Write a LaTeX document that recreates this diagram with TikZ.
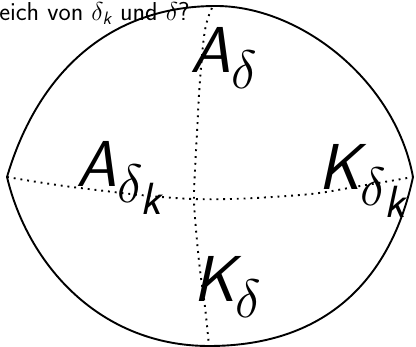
\documentclass[tikz,border=0pt]{standalone}
\usepackage{amsmath}
\newcommand{\sfsl}[1]{\text{\sffamily\slshape #1}}
\tikzset{
  rim/.style={line width=1.9pt, line join=round},
  grid/.style={line width=1.9pt, dash pattern=on 1.9pt off 4.9pt},
  lab/.style={anchor=base west, inner sep=0pt, scale=2.61, font=\Huge},
  ttl/.style={anchor=base west, inner sep=0pt, scale=1.5, font=\LARGE\sffamily}
}
\begin{document}
\begin{tikzpicture}[x=1pt,y=-1pt]
\useasboundingbox (0,0) rectangle (416,347);
\coordinate (L) at (7,177);
\coordinate (R) at (413,177);
\coordinate (T) at (216,6);
\coordinate (B) at (209,346);
\coordinate (C) at (194,199);
\node[ttl] (title) at (-1,21) {eich von $\delta_{\sfsl{k}}$ und $\delta$?};
% outline
\draw[rim] (L) .. controls (38,72) and (110,6) .. (T)
               .. controls (300,6) and (395,80) .. (R)
               .. controls (392,275) and (330,346) .. (B)
               .. controls (100,346) and (28,265) .. cycle;
% dotted grid lines
\draw[grid] plot[smooth, tension=0.6] coordinates {(L) (80,188) (C) (300,195) (360,186) (R)};
\draw[grid] plot[smooth, tension=0.6] coordinates {(212,8) (205,30) (200,80) (197,133) (195,170) (C) (196,230) (200,270) (205,307) (B)};
% labels
\node[lab] (Ad) at (190,73) {$\sfsl{A}_{\delta}$};
\node[lab] (Adk) at (76,187) {$\sfsl{A}_{\delta_{\sfsl{k}}}$};
\node[lab] (Kdk) at (318,190) {$\sfsl{K}_{\delta_{\sfsl{k}}}$};
\node[lab] (Kd) at (193,302) {$\sfsl{K}_{\delta}$};
\end{tikzpicture}
\end{document}
